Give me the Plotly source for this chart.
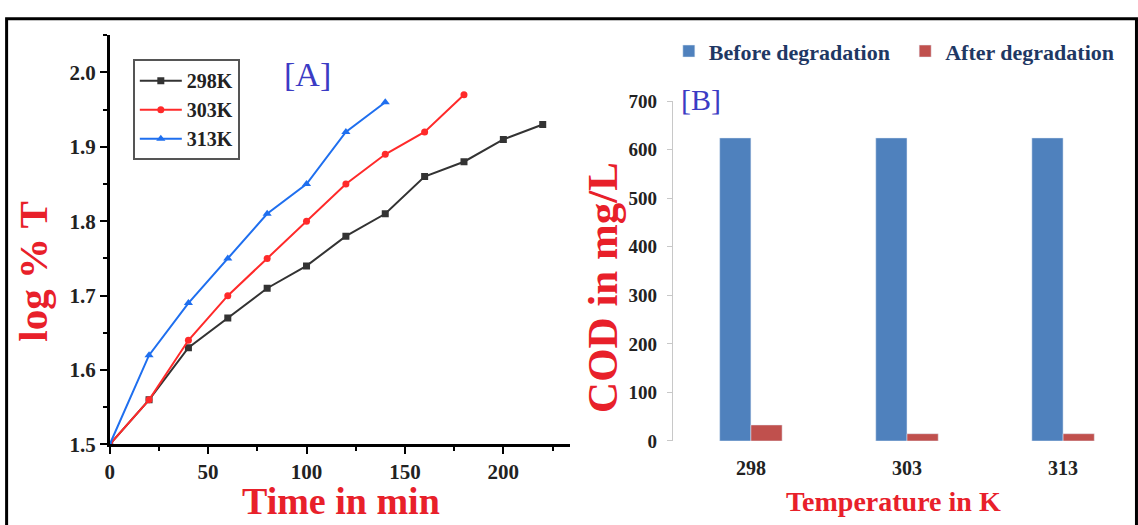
import plotly.graph_objects as go

# ---- Panel A data ----
t_298 = [0, 20, 40, 60, 80, 100, 120, 140, 160, 180, 200, 220]
y_298 = [1.50, 1.56, 1.63, 1.67, 1.71, 1.74, 1.78, 1.81, 1.86, 1.88, 1.91, 1.93]
t_303 = [0, 20, 40, 60, 80, 100, 120, 140, 160, 180]
y_303 = [1.50, 1.56, 1.64, 1.70, 1.75, 1.80, 1.85, 1.89, 1.92, 1.97]
t_313 = [0, 20, 40, 60, 80, 100, 120, 140]
y_313 = [1.50, 1.62, 1.69, 1.75, 1.81, 1.85, 1.92, 1.96]

# ---- Panel B data ----
temps = ["298", "303", "313"]
cod_before = [624, 624, 624]
cod_after = [33, 15, 15]

W, H = 1138, 525
SERIF = "Liberation Serif"

# map target-picture pixels to figure pixels (page margin / fit compensation)
AX, SX = 7.9, 0.99
AY, SY = 7.7, 0.961

def px_x(p):
    return min(1.0, max(0.0, ((p - AX) / SX) / W))

def px_y(p):
    return 1 - ((p - AY) / SY) / H

fig = go.Figure()

fig.add_trace(go.Scatter(x=t_298, y=y_298, name="298K", mode="lines+markers",
                         line=dict(color="#333333", width=2),
                         marker=dict(symbol="square", size=7, color="#333333"),
                         xaxis="x", yaxis="y", legend="legend"))
fig.add_trace(go.Scatter(x=t_303, y=y_303, name="303K", mode="lines+markers",
                         line=dict(color="#ff2a2a", width=2),
                         marker=dict(symbol="circle", size=7, color="#ff2a2a"),
                         xaxis="x", yaxis="y", legend="legend"))
fig.add_trace(go.Scatter(x=t_313, y=y_313, name="313K", mode="lines+markers",
                         line=dict(color="#1f6fef", width=2),
                         marker=dict(symbol="triangle-up", size=8, color="#1f6fef"),
                         xaxis="x", yaxis="y", legend="legend"))

fig.add_trace(go.Bar(x=temps, y=cod_before, name="Before degradation",
                     marker=dict(color="#4f81bd"), xaxis="x2", yaxis="y2",
                     legend="legend2"))
fig.add_trace(go.Bar(x=temps, y=cod_after, name="After degradation",
                     marker=dict(color="#c0504d"), xaxis="x2", yaxis="y2",
                     legend="legend3"))

tickfont_a = dict(family=SERIF, size=21, color="#222222", weight="bold")
tickfont_b = dict(family=SERIF, size=19, color="#222222", weight="bold")
legfont_b = dict(family=SERIF, size=22, color="#1f3864", weight="bold")

def ann(text, x, y, size, color, bold=False, angle=0):
    return dict(text=text, x=px_x(x), y=px_y(y), xref="paper", yref="paper",
                xanchor="center", yanchor="middle", showarrow=False,
                textangle=angle,
                font=dict(family=SERIF, size=size, color=color,
                          weight="bold" if bold else "normal"))

fig.update_layout(
    width=W, height=H,
    margin=dict(l=0, r=0, t=0, b=0),
    paper_bgcolor="white", plot_bgcolor="white",
    showlegend=True,
    barmode="group", bargap=0.6, bargroupgap=0,
    xaxis=dict(domain=[px_x(112), px_x(570)], range=[0, 234],
               showline=True, linecolor="black", linewidth=2.5,
               ticks="outside", ticklen=7, tickwidth=2, tickcolor="black",
               tickvals=[0, 50, 100, 150, 200],
               minor=dict(ticks="outside", ticklen=4, tickwidth=2,
                          tickcolor="black", tickvals=[25, 75, 125, 175, 225]),
               showgrid=False, zeroline=False, tickfont=tickfont_a),
    yaxis=dict(domain=[px_y(443.5), px_y(33)], range=[1.5, 2.05],
               anchor="x",
               showline=True, linecolor="black", linewidth=2.5,
               ticks="outside", ticklen=7, tickwidth=2, tickcolor="black",
               tickvals=[1.5, 1.6, 1.7, 1.8, 1.9, 2.0],
               ticktext=["1.5", "1.6", "1.7", "1.8", "1.9", "2.0"],
               minor=dict(ticks="outside", ticklen=4, tickwidth=2,
                          tickcolor="black",
                          tickvals=[1.55, 1.65, 1.75, 1.85, 1.95, 2.05]),
               showgrid=False, zeroline=False, tickfont=tickfont_a),
    xaxis2=dict(domain=[px_x(672), 1.0], range=[-0.5, 2.48],
                anchor="y2", showline=False, ticks="", showgrid=False,
                zeroline=False, tickfont=dict(family=SERIF, size=20,
                                              color="#222222", weight="bold"),
                ticklabelstandoff=13, type="category"),
    yaxis2=dict(domain=[px_y(440), px_y(99)], range=[0, 700], anchor="x2",
                showline=True, linecolor="#c8c8c8", linewidth=1,
                ticks="outside", ticklen=5, tickcolor="#c8c8c8",
                tickvals=[0, 100, 200, 300, 400, 500, 600, 700],
                ticklabelstandoff=6,
                showgrid=False, zeroline=False, tickfont=tickfont_b),
    legend=dict(x=px_x(135), y=px_y(57), xanchor="left", yanchor="top",
                bgcolor="white", bordercolor="#555555", borderwidth=2,
                font=dict(family=SERIF, size=20, color="#222222", weight="bold"),
                itemwidth=42, tracegroupgap=0),
    legend2=dict(x=px_x(668), y=px_y(28), xanchor="left", yanchor="top",
                 bgcolor="rgba(0,0,0,0)", font=legfont_b, itemwidth=30),
    legend3=dict(x=px_x(903), y=px_y(28), xanchor="left", yanchor="top",
                 bgcolor="rgba(0,0,0,0)", font=legfont_b, itemwidth=30),
    annotations=[
        ann("[A]", 309, 72, 34, "#3b3bc4"),
        ann("[B]", 700, 97, 30, "#3b3bc4"),
        ann("log % T", 35, 270, 41, "#e8202a", bold=True, angle=-90),
        ann("Time in min", 342, 500, 38, "#e8202a", bold=True),
        ann("COD in mg/L", 602, 286, 43, "#e8202a", bold=True, angle=-90),
        ann("Temperature in K", 891, 501, 28, "#e8202a", bold=True),
    ],
    shapes=[
        dict(type="rect", xref="paper", yref="paper",
             x0=px_x(9.5), x1=px_x(1133), y0=-0.1, y1=px_y(16.5),
             line=dict(color="black", width=3), fillcolor="rgba(0,0,0,0)",
             layer="above"),
    ],
)

fig.write_html("out.html")
